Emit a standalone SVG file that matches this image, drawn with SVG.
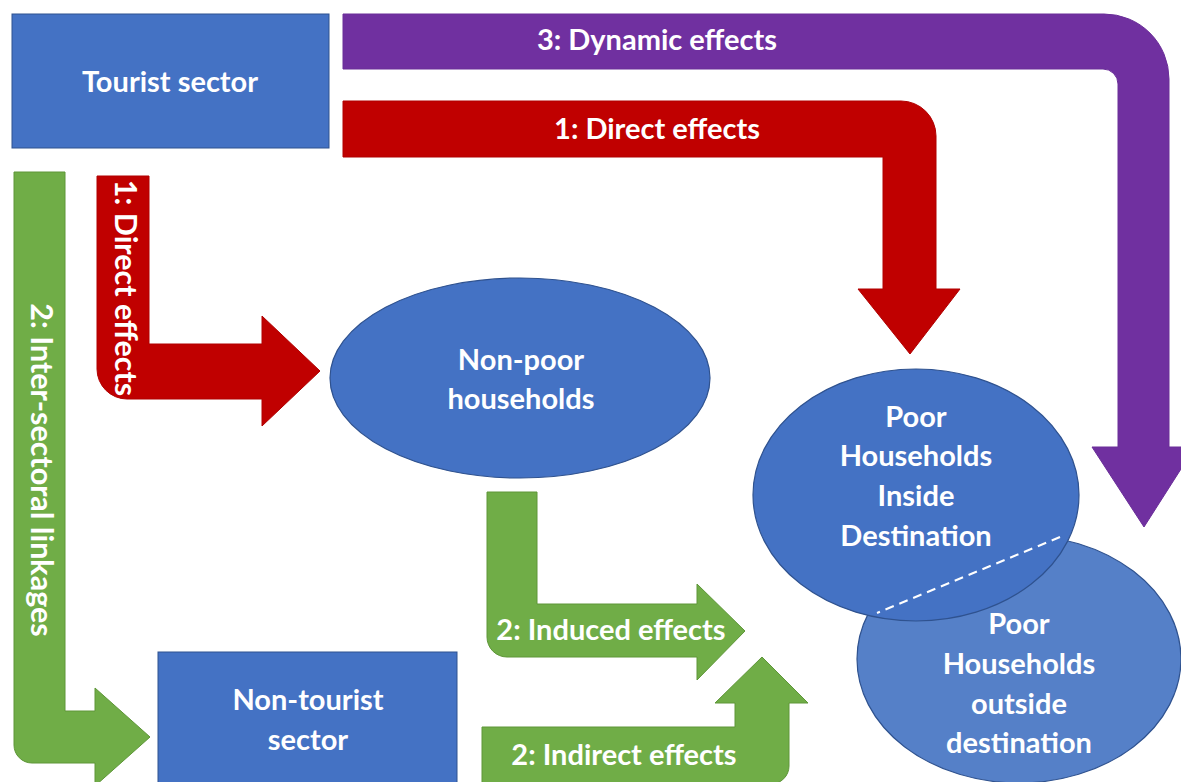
<svg xmlns="http://www.w3.org/2000/svg" width="1181" height="782" viewBox="0 0 1181 782">
  <style>
    .box { fill: #4472C4; stroke: #2F528F; stroke-width: 1; }
    .oval { fill: #4472C4; stroke: #2F528F; stroke-width: 1.2; }
    .oval2 { fill: #5580C8; stroke: #2F528F; stroke-width: 1.2; }
    .lbl { font-family: Lato, "Open Sans", "Liberation Sans", sans-serif; font-weight: bold; font-size: 29px; fill: #FFFFFF; text-anchor: middle; }
    .vlbl { font-size: 30.5px; }
    .red { fill: #C00000; stroke: #B00000; stroke-width: 1; }
    .purple { fill: #7030A0; stroke: #6A2E98; stroke-width: 1; }
    .green { fill: #70AD47; stroke: #5E9638; stroke-width: 1; }
  </style>

  <!-- connectors: block arrows between the sectors and households -->
  <g id="connectors">
    <!-- 3: Dynamic effects -->
    <path class="purple" d="M343,14 H1104 A65,65 0 0 1 1169,79 V447 H1195 L1144,527 L1092,447 H1118 V84 A15,15 0 0 0 1103,69 H343 Z"/>
    <text class="lbl" x="657" y="50">3: Dynamic effects</text>

    <!-- 1: Direct effects (to poor households) -->
    <path class="red" d="M343,101 H901 A35,35 0 0 1 936,136 V289 H960 L910,354 L858,289 H883 V157 H343 Z"/>
    <text class="lbl" x="657" y="139">1: Direct effects</text>

    <!-- 1: Direct effects (to non-poor households) -->
    <path class="red" d="M97,176 H149 V344 H262 V316 L320,371 L262,426 V399 H127 A30,30 0 0 1 97,369 Z"/>
    <text class="lbl vlbl" transform="translate(124,288) rotate(90)" x="0" y="9">1: Direct effects</text>

    <!-- 2: Inter-sectoral linkages -->
    <path class="green" d="M14,172 H65 V711 H95 V688 L150,737 L95,786 V763 H32 A18,18 0 0 1 14,745 Z"/>
    <text class="lbl vlbl" transform="translate(40,470) rotate(90)" x="0" y="9">2: Inter-sectoral linkages</text>

    <!-- 2: Induced effects -->
    <path class="green" d="M487,492 H537 V604 H697 V584 L745,631 L697,680 V657 H507 A20,20 0 0 1 487,637 Z"/>
    <text class="lbl" x="611" y="640">2: Induced effects</text>

    <!-- 2: Indirect effects -->
    <path class="green" d="M482,727 H735 V703 H715 L762,657 L808,703 H789 V766 A18,18 0 0 1 771,784 H482 Z"/>
    <text class="lbl" x="624" y="765">2: Indirect effects</text>
  </g>

  <g id="tourist-sector">
    <rect class="box" x="12" y="14" width="317" height="134"/>
    <text class="lbl" x="170" y="92">Tourist sector</text>
  </g>

  <g id="non-tourist-sector">
    <rect class="box" x="158" y="652" width="299" height="140"/>
    <text class="lbl" x="308" y="710">Non-tourist</text>
    <text class="lbl" x="308" y="750">sector</text>
  </g>

  <g id="non-poor-households">
    <ellipse class="oval" cx="520" cy="378" rx="190" ry="100"/>
    <text class="lbl" x="521" y="370">Non-poor</text>
    <text class="lbl" x="521" y="409">households</text>
  </g>

  <g id="poor-outside">
    <ellipse class="oval2" cx="1019" cy="659" rx="162" ry="124"/>
    <text class="lbl" x="1019" y="634">Poor</text>
    <text class="lbl" x="1019" y="674">Households</text>
    <text class="lbl" x="1019" y="714">outside</text>
    <text class="lbl" x="1019" y="753">destination</text>
  </g>

  <g id="poor-inside">
    <ellipse class="oval" cx="916" cy="495" rx="163" ry="126"/>
    <text class="lbl" x="916" y="427">Poor</text>
    <text class="lbl" x="916" y="466">Households</text>
    <text class="lbl" x="916" y="506">Inside</text>
    <text class="lbl" x="916" y="546">Destination</text>
    <line x1="1060" y1="537" x2="877" y2="613" stroke="#FFFFFF" stroke-width="2" stroke-dasharray="9,6"/>
  </g>
</svg>
